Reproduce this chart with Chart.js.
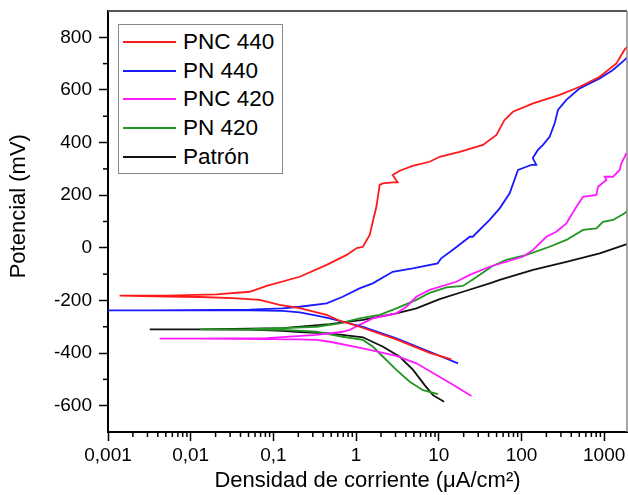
<!DOCTYPE html>
<html><head><meta charset="utf-8">
<script src="https://cdn.jsdelivr.net/npm/chart.js@4.4.1/dist/chart.umd.min.js"></script>
<style>
html,body{margin:0;padding:0;background:#fff;overflow:hidden;}
#wrap{position:relative;width:628px;height:495px;}
#legend{position:absolute;left:118px;top:24px;width:163px;height:148px;border:1px solid #8a8a8a;background:#fff;font-family:'Liberation Sans',Arial,sans-serif;font-size:22.5px;color:#000;}
.item{position:absolute;left:0;width:163px;height:28px;line-height:28px;white-space:nowrap;}
.sw{position:absolute;left:4px;top:13px;width:53px;height:2px;}
.tx{position:absolute;left:64px;top:0;}
</style></head>
<body>
<div id="wrap">
<canvas id="c" width="628" height="495"></canvas>
<div id="legend"></div>
</div>
<script>
// ---- data (current density in µA/cm², potential in mV) ----
const seriesNames = ['PNC 440', 'PN 440', 'PNC 420', 'PN 420', 'Patrón'];
const seriesColors = ['#ff1a1a', '#1a1aff', '#ff1aff', '#229522', '#111111'];

const pnc440I = [14.2, 7.76, 3.07, 1.10, 0.634, 0.441, 0.208, 0.119, 0.0682, 0.0322, 0.0129, 0.0051, 0.00138, 0.0051, 0.0206, 0.0517, 0.0829, 0.208, 0.441, 0.769, 1.02, 1.21, 1.46, 1.59, 1.76, 1.93, 2.10, 2.77, 3.18, 2.77, 3.37, 4.83, 7.76, 10.25, 17.9, 34.2, 49.8, 62.4, 78.9, 138, 290, 506, 883, 1406, 1770, 1888];
const pnc440E = [-424, -399, -348, -300, -277, -255, -229, -217, -198, -191, -187, -185, -182, -182, -177, -167, -145, -110, -65, -27, -1, 4, 49, 99, 156, 239, 245, 249, 249, 277, 293, 311, 327, 346, 365, 391, 429, 486, 517, 549, 581, 612, 650, 701, 754, 763];

const pn440I = [17.1, 7.76, 3.07, 1.21, 0.689, 0.48, 0.334, 0.208, 0.129, 0.0517, 0.0129, 0.001, 0.0032, 0.0517, 0.129, 0.208, 0.441, 0.689, 1.10, 1.59, 2.77, 4.83, 9.7, 10.7, 14.7, 23.7, 25.7, 41.2, 54.5, 71.9, 90.8, 115, 132, 151, 137, 158, 182, 219, 252, 276, 349, 506, 883, 1277, 1770, 1888];
const pn440E = [-439, -395, -344, -300, -281, -268, -258, -245, -240, -238, -238, -238, -238, -235, -230, -224, -211, -186, -154, -135, -91, -78, -59, -40, -8, 42, 42, 106, 150, 207, 296, 308, 315, 315, 341, 372, 391, 422, 473, 524, 562, 606, 644, 676, 714, 723];

const pnc420I = [24.8, 16.3, 9.35, 5.36, 3.07, 1.21, 0.48, 0.334, 0.208, 0.0829, 0.0129, 0.00422, 0.0129, 0.0829, 0.334, 0.689, 0.836, 1.10, 1.59, 3.07, 4.06, 5.36, 7.76, 16.3, 23.7, 41.2, 65.6, 104, 138, 200, 264, 349, 461, 555, 805, 842, 1064, 1014, 1277, 1538, 1614, 1770, 1850];
const pnc420E = [-563, -528, -483, -439, -411, -382, -357, -350, -348, -347, -345, -345, -345, -343, -331, -319, -312, -293, -268, -249, -224, -186, -160, -129, -103, -72, -53, -34, -8, 42, 61, 93, 156, 194, 201, 232, 258, 270, 270, 296, 321, 346, 360];

const pn420I = [9.78, 6.44, 4.45, 3.07, 2.12, 1.60, 1.21, 0.689, 0.334, 0.129, 0.0517, 0.0129, 0.0517, 0.129, 0.334, 0.634, 1.10, 1.93, 3.07, 5.36, 7.76, 12.4, 19.6, 27.2, 37.6, 44, 65.6, 115, 219, 349, 555, 805, 968, 1277, 1770, 1888];
const pn420E = [-556, -541, -509, -464, -414, -376, -350, -338, -319, -312, -311, -310, -309, -305, -300, -287, -268, -255, -230, -198, -171, -150, -145, -116, -85, -70, -46, -27, 4, 30, 68, 74, 99, 106, 131, 140];

const patronI = [11.6, 8.51, 6.75, 4.89, 3.37, 2.12, 1.21, 0.48, 0.208, 0.129, 0.0517, 0.0129, 0.0032, 0.0129, 0.129, 0.48, 1.21, 3.07, 5.36, 10.25, 19.6, 41.2, 54.5, 138, 349, 883, 1770, 1888];
const patronE = [-585, -560, -522, -464, -414, -376, -340, -325, -320, -316, -311, -310, -310, -310, -305, -290, -274, -249, -230, -195, -167, -135, -122, -84, -53, -21, 11, 14];

const xTicks = [0.001, 0.01, 0.1, 1, 10, 100, 1000];
const xTickLabels = ['0,001', '0,01', '0,1', '1', '10', '100', '1000'];
const yTicks = [-600, -400, -200, 0, 200, 400, 600, 800];
const yTickLabels = ['-600', '-400', '-200', '0', '200', '400', '600', '800'];
const yMinorTicks = [-500, -300, -100, 100, 300, 500, 700];

// ---- build ----
const FONT = "'Liberation Sans', Arial, sans-serif";
const allI = [pnc440I, pn440I, pnc420I, pn420I, patronI];
const allE = [pnc440E, pn440E, pnc420E, pn420E, patronE];
const datasets = seriesNames.map((name, k) => ({
  label: name,
  data: allI[k].map((x, i) => ({x: x, y: allE[k][i]})),
  borderColor: seriesColors[k],
  backgroundColor: seriesColors[k],
  borderWidth: 1.8,
  pointRadius: 0,
  tension: 0,
  fill: false
}));

const framePlugin = {
  id: 'frame',
  afterDraw(chart) {
    const {ctx, chartArea: a, scales} = chart;
    ctx.save();
    ctx.strokeStyle = '#555';
    ctx.lineWidth = 2;
    ctx.beginPath(); ctx.moveTo(a.left, a.top); ctx.lineTo(a.right, a.top); ctx.stroke();
    ctx.strokeStyle = '#888';
    ctx.lineWidth = 1.5;
    ctx.beginPath(); ctx.moveTo(a.right, a.top); ctx.lineTo(a.right, a.bottom); ctx.stroke();
    // minor ticks
    ctx.strokeStyle = '#000';
    ctx.lineWidth = 1.5;
    const xs = scales.x;
    for (let d = -3; d <= 3; d++) {
      for (let m = 2; m <= 9; m++) {
        const v = m * Math.pow(10, d);
        if (v >= xs.max) continue;
        const px = xs.getPixelForValue(v);
        ctx.beginPath(); ctx.moveTo(px, a.bottom); ctx.lineTo(px, a.bottom + 5); ctx.stroke();
      }
    }
    const ys = scales.y;
    yMinorTicks.forEach(v => {
      const py = ys.getPixelForValue(v);
      ctx.beginPath(); ctx.moveTo(a.left - 5, py); ctx.lineTo(a.left, py); ctx.stroke();
    });
    ctx.restore();
  }
};

new Chart(document.getElementById('c'), {
  type: 'line',
  data: {datasets},
  options: {
    responsive: false,
    animation: false,
    layout: {padding: {left: 0, right: 1, top: 11, bottom: 0}},
    plugins: {legend: {display: false}, tooltip: {enabled: false}},
    scales: {
      x: {
        type: 'logarithmic', min: 0.001, max: 1888, position: 'bottom',
        afterBuildTicks: s => { s.ticks = xTicks.map(v => ({value: v, major: true})); },
        afterFit: s => { s.height = 63; s.paddingLeft = 0; s.paddingRight = 0; },
        ticks: {
          autoSkip: false, maxRotation: 0, padding: 3, color: '#000',
          font: {family: FONT, size: 19},
          callback: v => xTickLabels[xTicks.indexOf(v)]
        },
        grid: {drawOnChartArea: false, drawTicks: true, tickLength: 9, tickColor: '#000', tickWidth: 1.5},
        border: {display: true, color: '#000', width: 2},
        title: {display: true, text: 'Densidad de corriente (μA/cm²)', color: '#000', font: {family: FONT, size: 22}, padding: {top: 0, bottom: 1}}
      },
      y: {
        type: 'linear', min: -700, max: 900,
        afterBuildTicks: s => { s.ticks = yTicks.map(v => ({value: v})); },
        afterFit: s => { s.width = 108; s.paddingTop = 0; s.paddingBottom = 0; },
        ticks: {
          padding: 7, color: '#000',
          font: {family: FONT, size: 19},
          callback: v => yTickLabels[yTicks.indexOf(v)]
        },
        grid: {drawOnChartArea: false, drawTicks: true, tickLength: 9, tickColor: '#000', tickWidth: 1.5},
        border: {display: true, color: '#000', width: 2},
        title: {display: true, text: '     Potencial (mV)', color: '#000', font: {family: FONT, size: 22}, padding: {top: 6, bottom: 0}}
      }
    }
  },
  plugins: [framePlugin]
});

// legend
const leg = document.getElementById('legend');
seriesNames.forEach((name, k) => {
  const it = document.createElement('div');
  it.className = 'item';
  it.style.top = (3 + k * 28.7) + 'px';
  const sw = document.createElement('div');
  sw.className = 'sw';
  sw.style.background = seriesColors[k];
  const tx = document.createElement('span');
  tx.className = 'tx';
  tx.textContent = name;
  it.appendChild(sw); it.appendChild(tx);
  leg.appendChild(it);
});
</script>
</body></html>
